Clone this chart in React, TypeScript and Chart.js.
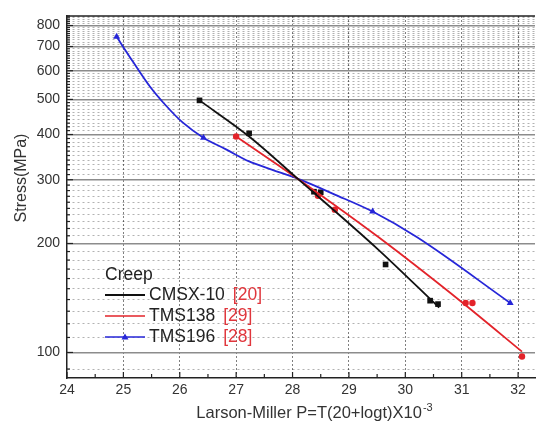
import React, { useEffect, useRef } from 'react';
import { Chart, registerables } from 'chart.js';
Chart.register(...registerables);

const FONT = "'Liberation Sans', Arial, sans-serif";
const RED = '#e3232a';
const BLUE = '#2626d8';
const BLACK = '#111111';
const REF_RED = '#e0363c';

// tick labels
const xTickValues = [24, 25, 26, 27, 28, 29, 30, 31, 32];
const yMajorTicks = [100, 200, 300, 400, 500, 600, 700, 800];

// CMSX-10 measured points and fit
const cmsxP = [26.35, 27.23, 28.38, 28.5, 29.65, 30.44, 30.58];
const cmsxS = [497, 403, 278, 277, 175, 139, 136];
const cmsxFitP = [26.35, 27.23, 28.09, 29.51, 30.6];
const cmsxFitS = [497, 395, 302, 193, 133];

// TMS138 measured points and fit
const tms138P = [27.0, 28.45, 28.75, 31.07, 31.19, 32.07];
const tms138S = [395, 271, 248, 137, 137, 97.5];
const tms138FitP = [27.0, 28.09, 29.51, 31.02, 32.07];
const tms138FitS = [395, 302, 209, 137, 100.5];

// TMS196 measured points and fit
const tms196P = [24.88, 26.42, 29.42, 31.86];
const tms196S = [745, 392, 245, 137];
const tms196FitP = [24.88, 25.18, 25.47, 25.77, 26.05, 26.42, 26.82, 27.23, 27.63, 28.09, 28.75, 29.42, 30.21, 31.86];
const tms196FitS = [745, 632, 543, 478, 432, 392, 364, 337, 320, 302, 273, 245, 208, 137];

const seriesNames = ['CMSX-10', 'TMS138', 'TMS196'];
const seriesRefs = ['[20]', '[29]', '[28]'];

export default function App() {
  const ref = useRef<HTMLCanvasElement>(null);

  useEffect(() => {
    const toXY = (xs: number[], ys: number[]) => xs.map((x, i) => ({ x, y: ys[i] }));
    const yGrid: number[] = [];
    for (let v = 90; v <= 850; v += 10) yGrid.push(v);
    const isMajorY = (v: number) => yMajorTicks.includes(v);

    const legendPlugin = {
      id: 'customLegendTitles',
      afterDatasetsDraw(chart: any) {
        const ctx = chart.ctx;
        const area = chart.chartArea;
        ctx.save();
        // top border
        ctx.strokeStyle = '#222';
        ctx.lineWidth = 1.5;
        ctx.beginPath();
        ctx.moveTo(area.left, area.top);
        ctx.lineTo(area.right, area.top);
        ctx.stroke();

        // inward ticks on x axis
        const xs = chart.scales.x;
        ctx.lineWidth = 1.2;
        for (let v = 24; v <= 32; v += 0.5) {
          const px = xs.getPixelForValue(v);
          const len = Number.isInteger(v) ? 6 : 4;
          ctx.beginPath();
          ctx.moveTo(px, area.bottom);
          ctx.lineTo(px, area.bottom - len);
          ctx.stroke();
        }
        // inward ticks on y axis
        const ys = chart.scales.y;
        for (const v of yGrid) {
          const py = ys.getPixelForValue(v);
          const len = isMajorY(v) ? 6 : 3;
          ctx.beginPath();
          ctx.moveTo(area.left, py);
          ctx.lineTo(area.left + len, py);
          ctx.stroke();
        }

        // legend
        ctx.textBaseline = 'middle';
        ctx.textAlign = 'left';
        ctx.fillStyle = '#222';
        ctx.font = `17.5px ${FONT}`;
        ctx.fillText('Creep', 105, 275);
        const rows = [295, 316, 337];
        const fitSets = chart.data.datasets.filter((d: any) => d.isFit);
        fitSets.forEach((d: any, i: number) => {
          const y = rows[i];
          ctx.strokeStyle = d.borderColor;
          ctx.lineWidth = i === 0 ? 2.2 : 1.6;
          ctx.beginPath();
          ctx.moveTo(105, y);
          ctx.lineTo(145, y);
          ctx.stroke();
          if (i === 2) {
            ctx.fillStyle = d.borderColor;
            ctx.beginPath();
            ctx.moveTo(125, y - 3.5);
            ctx.lineTo(128.5, y + 2.5);
            ctx.lineTo(121.5, y + 2.5);
            ctx.closePath();
            ctx.fill();
          }
          ctx.font = `17.5px ${FONT}`;
          ctx.fillStyle = '#222';
          ctx.fillText(seriesNames[i], 149, y);
          const w = ctx.measureText(seriesNames[i]).width;
          ctx.fillStyle = REF_RED;
          ctx.fillText(seriesRefs[i], 149 + w + 8, y);
        });

        // y axis title
        ctx.save();
        ctx.translate(22, 178);
        ctx.rotate(-Math.PI / 2);
        ctx.textAlign = 'center';
        ctx.textBaseline = 'middle';
        ctx.fillStyle = '#333';
        ctx.font = `16px ${FONT}`;
        ctx.fillText('Stress(MPa)', 0, 0);
        ctx.restore();

        // x axis title with superscript
        const main = 'Larson-Miller P=T(20+logt)X10';
        const sup = '-3';
        ctx.font = `16.5px ${FONT}`;
        const mw = ctx.measureText(main).width;
        ctx.font = `11px ${FONT}`;
        const sw = ctx.measureText(sup).width;
        const startX = 314 - (mw + sw) / 2;
        ctx.textBaseline = 'alphabetic';
        ctx.fillStyle = '#333';
        ctx.font = `16.5px ${FONT}`;
        ctx.fillText(main, startX, 418);
        ctx.font = `11px ${FONT}`;
        ctx.fillText(sup, startX + mw + 1, 411);
        ctx.restore();
      },
    };

    const fitCommon = { pointRadius: 0, borderWidth: 1.8, cubicInterpolationMode: 'monotone', fill: false };

    const chart = new Chart(ref.current as HTMLCanvasElement, {
      type: 'line',
      data: {
        datasets: [
          { label: seriesNames[0], isFit: true, data: toXY(cmsxFitP, cmsxFitS), borderColor: BLACK, ...fitCommon } as any,
          { label: seriesNames[1], isFit: true, data: toXY(tms138FitP, tms138FitS), borderColor: RED, ...fitCommon } as any,
          { label: seriesNames[2], isFit: true, data: toXY(tms196FitP, tms196FitS), borderColor: BLUE, ...fitCommon } as any,
          {
            label: seriesNames[0] + ' data',
            data: toXY(cmsxP, cmsxS),
            showLine: false, pointStyle: 'rect', pointRadius: 4,
            backgroundColor: BLACK, borderColor: BLACK, borderWidth: 0,
          } as any,
          {
            label: seriesNames[1] + ' data',
            data: toXY(tms138P, tms138S),
            showLine: false, pointStyle: 'circle', pointRadius: 3.2,
            backgroundColor: RED, borderColor: RED, borderWidth: 0,
          } as any,
          {
            label: seriesNames[2] + ' data',
            data: toXY(tms196P, tms196S),
            showLine: false, pointStyle: 'triangle', pointRadius: 4,
            backgroundColor: BLUE, borderColor: BLUE, borderWidth: 0,
          } as any,
        ],
      },
      options: {
        animation: false,
        responsive: false,
        devicePixelRatio: 1,
        layout: { padding: { top: 16, left: 0, right: 0, bottom: 0 } },
        plugins: { legend: { display: false }, tooltip: { enabled: false }, title: { display: false } },
        scales: {
          x: {
            type: 'linear', min: 24, max: 32.3,
            afterBuildTicks: (s: any) => { s.ticks = xTickValues.map((v) => ({ value: v })); },
            afterFit: (s: any) => { s.height = 53; },
            ticks: {
              autoSkip: false, padding: 4, maxRotation: 0,
              color: '#333', font: { family: FONT, size: 14 },
              callback: (v: any) => String(v),
            },
            grid: {
              drawTicks: false,
              color: (c: any) => (c.tick && c.tick.value === 24 ? 'rgba(0,0,0,0)' : 'rgba(0,0,0,0.5)'),
              lineWidth: 1,
            },
            border: { display: true, color: '#222', width: 1.5, dash: (c: any) => (c.tick ? [2, 2] : []) },
          },
          y: {
            type: 'logarithmic', min: 85, max: 850,
            afterBuildTicks: (s: any) => { s.ticks = yGrid.map((v) => ({ value: v })); },
            afterFit: (s: any) => { s.width = 67; },
            ticks: {
              autoSkip: false, padding: 7,
              color: '#333', font: { family: FONT, size: 14 },
              callback: (v: any) => (isMajorY(Number(v)) ? String(v) : ''),
            },
            grid: {
              drawTicks: false,
              color: (c: any) => (c.tick && isMajorY(c.tick.value) ? '#8c8c8c' : 'rgba(0,0,0,0.3)'),
              lineWidth: (c: any) => (c.tick && isMajorY(c.tick.value) ? 1.6 : 1),
            },
            border: {
              display: true, color: '#222', width: 1.5,
              dash: (c: any) => (c.tick && !isMajorY(c.tick.value) ? [2, 3] : []),
            },
          },
        },
      } as any,
      plugins: [legendPlugin],
    });
    return () => chart.destroy();
  }, []);

  return (
    <div style={{ position: 'fixed', left: 0, top: 0, width: 539, height: 431, background: '#fff' }}>
      <canvas ref={ref} width={539} height={431} style={{ display: 'block', width: 539, height: 431 }} />
    </div>
  );
}
